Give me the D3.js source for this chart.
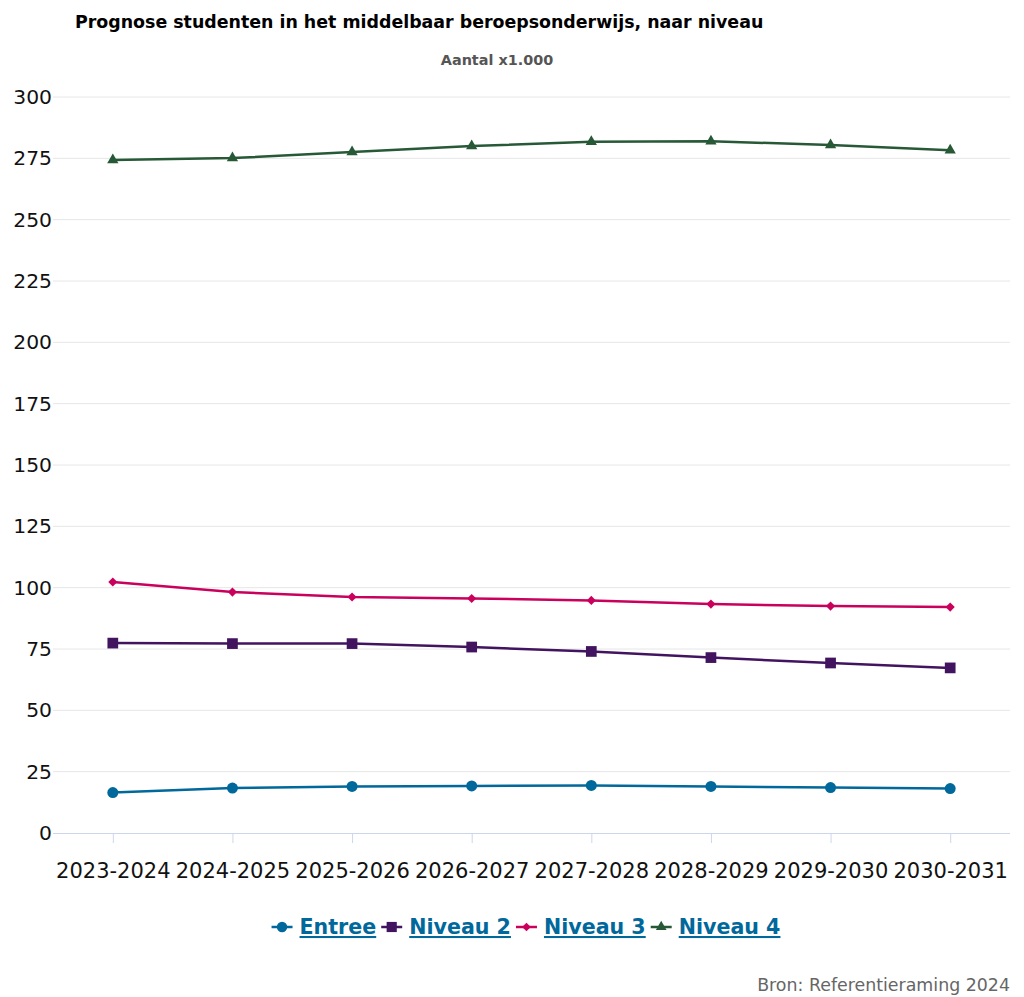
<!DOCTYPE html>
<html><head><meta charset="utf-8">
<script src="https://cdn.jsdelivr.net/npm/d3@7"></script>
<style>body{margin:0;background:#fff;} svg{display:block;font-family:"DejaVu Sans",Verdana,sans-serif;}</style>
</head><body><svg id="c" width="1024" height="997"></svg>
<script>
const categories = ["2023-2024","2024-2025","2025-2026","2026-2027","2027-2028","2028-2029","2029-2030","2030-2031"];
const entree  = [16.5, 18.3, 19.0, 19.2, 19.4, 19.0, 18.5, 18.1];
const niveau2 = [77.4, 77.2, 77.2, 75.8, 74.0, 71.5, 69.3, 67.3];
const niveau3 = [102.3, 98.2, 96.2, 95.6, 94.8, 93.3, 92.5, 92.1];
const niveau4 = [274.3, 275.1, 277.6, 280.0, 281.8, 282.0, 280.4, 278.3];
const yTicks = [0,25,50,75,100,125,150,175,200,225,250,275,300];
const seriesNames = ["Entree","Niveau 2","Niveau 3","Niveau 4"];
const seriesColors = ["#01689b","#42145f","#ca005d","#275937"];
const series = [entree, niveau2, niveau3, niveau4];

const svg = d3.select("#c");
const L = 53, R = 1010, T = 97, B = 833;
const x = d3.scalePoint().domain(categories).range([L, R]).padding(0.5);
const y = d3.scaleLinear().domain([0,300]).range([B, T]);

// marker drawing: [symbol type, size, rotation]
const markerDefs = [[d3.symbolCircle, 95, 0],[d3.symbolSquare, 115, 0],[d3.symbolSquare, 42, 45],[d3.symbolTriangle, 55, 0]];
function marker(sel, k, scale) {
  const m = markerDefs[k];
  return sel.append("path").attr("d", d3.symbol(m[0], m[1]*(scale||1))).attr("fill", seriesColors[k]);
}

svg.append("text").attr("x",75).attr("y",28).attr("font-weight","bold").attr("font-size",17.4).attr("fill","#000")
  .text("Prognose studenten in het middelbaar beroepsonderwijs, naar niveau");
svg.append("text").attr("x",497).attr("y",65).attr("text-anchor","middle").attr("font-weight","bold").attr("font-size",14.4).attr("fill","#555")
  .text("Aantal x1.000");

// grid
const gy = svg.append("g");
gy.selectAll("line").data(yTicks.filter(d=>d>0)).join("line")
  .attr("x1",L).attr("x2",R).attr("y1",d=>y(d)).attr("y2",d=>y(d)).attr("stroke","#e6e6e6").attr("stroke-width",1);
gy.selectAll("text").data(yTicks).join("text")
  .attr("x",L-1).attr("y",d=>y(d)+7).attr("text-anchor","end").attr("font-size",20.3).attr("fill","#111").text(d=>d);

// x axis
const xa = svg.append("g").attr("transform",`translate(0,${B})`)
  .call(d3.axisBottom(x).tickSize(10).tickSizeOuter(0));
xa.select(".domain").attr("stroke","#ccd6eb").attr("d",`M${L},0.5H${R}`);
xa.selectAll(".tick line").attr("stroke","#ccd6eb");
xa.selectAll(".tick text").attr("font-size",21).attr("fill","#111").attr("font-family","DejaVu Sans, Verdana, sans-serif").attr("dy","1.5em");

// lines
const line = d3.line().x((d,i)=>x(categories[i])).y(d=>y(d));
series.forEach((s,k)=>{
  svg.append("path").datum(s).attr("d",line).attr("fill","none").attr("stroke",seriesColors[k]).attr("stroke-width",2.5);
  const g = svg.append("g");
  s.forEach((d,i)=>{
    marker(g, k).attr("transform",`translate(${x(categories[i])},${y(d)}) rotate(${markerDefs[k][2]})`);
  });
});

// legend
const lg = svg.append("g");
let cx = 0;
seriesNames.forEach((n,k)=>{
  const g = lg.append("g").attr("transform",`translate(${cx},0)`);
  g.append("line").attr("x1",0).attr("x2",21).attr("y1",0).attr("y2",0).attr("stroke",seriesColors[k]).attr("stroke-width",2.5);
  marker(g, k, 0.9).attr("transform",`translate(10.5,0) rotate(${markerDefs[k][2]})`);
  const t = g.append("text").attr("x",28).attr("y",7).attr("font-size",20.6).attr("font-weight","bold").attr("fill","#01689b")
    .attr("text-decoration","underline").text(n);
  cx += 28 + t.node().getComputedTextLength() + 5;
});
const lw = cx - 5;
lg.attr("transform",`translate(${526 - lw/2},927)`);

svg.append("text").attr("x",1010).attr("y",991).attr("text-anchor","end").attr("font-size",17.4).attr("fill","#666")
  .text("Bron: Referentieraming 2024");
</script></body></html>
